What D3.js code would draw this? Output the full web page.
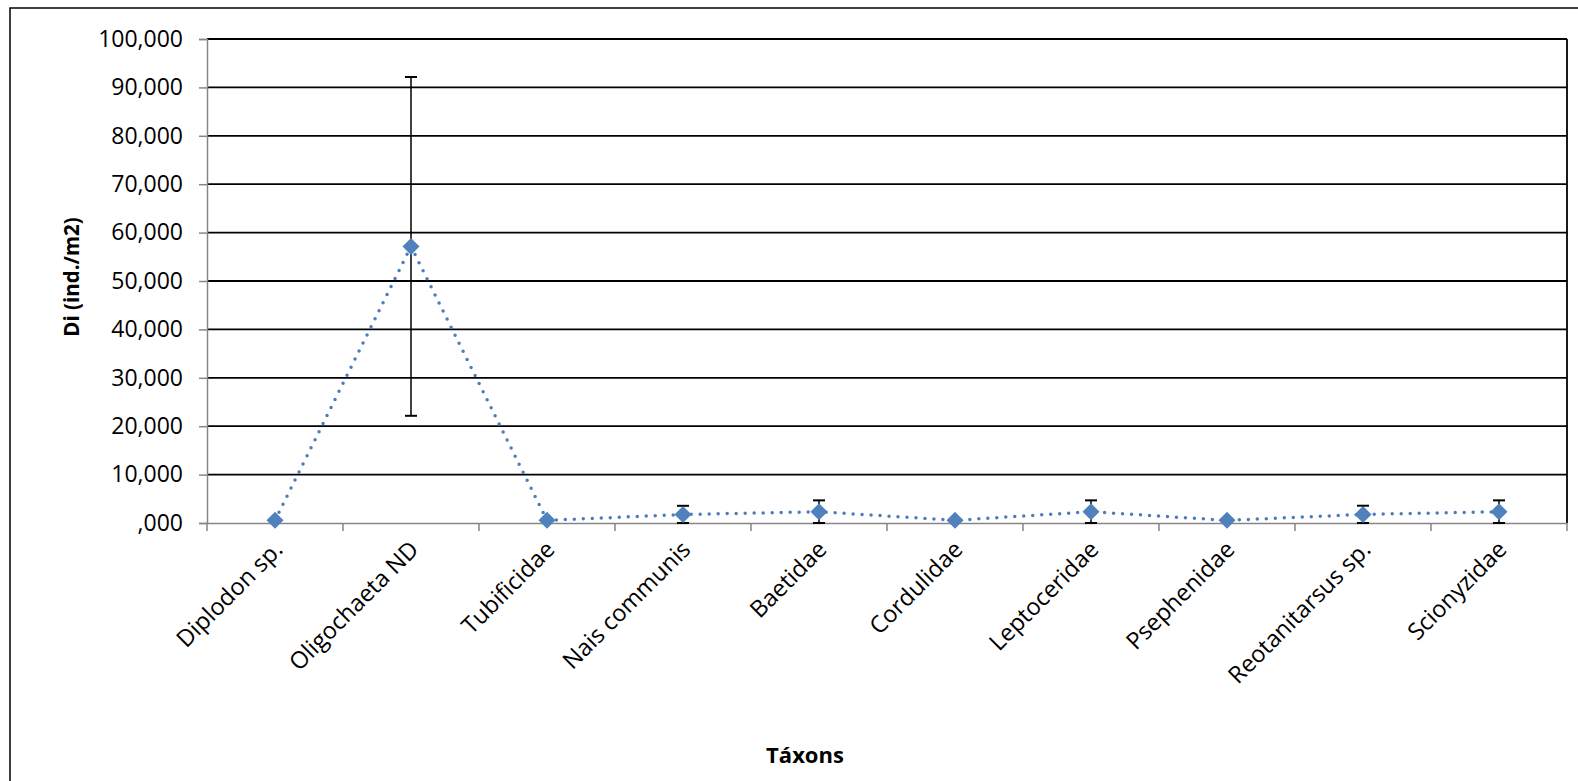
<!DOCTYPE html>
<html>
<head>
<meta charset="utf-8">
<script src="https://cdn.jsdelivr.net/npm/d3@7"></script>
<style>
  html, body { margin: 0; padding: 0; background: #fff; overflow: hidden; }
  svg { display: block; }
  text { font-family: "Open Sans", "Liberation Sans", sans-serif; fill: #000; }
</style>
</head>
<body>
<svg id="chart" width="1578" height="781"></svg>
<script>
const categories = ["Diplodon sp.", "Oligochaeta ND", "Tubificidae", "Nais communis", "Baetidae",
  "Cordulidae", "Leptoceridae", "Psephenidae", "Reotanitarsus sp.", "Scionyzidae"];
const values = [0.55, 57.15, 0.55, 1.75, 2.33, 0.55, 2.33, 0.55, 1.77, 2.33];
const errors = [0, 35.0, 0, 1.8, 2.35, 0, 2.35, 0, 1.8, 2.35];
const yTicks = [0, 10, 20, 30, 40, 50, 60, 70, 80, 90, 100];
const yTitle = "Di (ind./m2)";
const xTitle = "Táxons";

const svg = d3.select("#chart");
const plot = { left: 207, right: 1567, top: 39, bottom: 523 };

// outer chart border (extends past right/bottom edge)
svg.append("rect").attr("x", 10).attr("y", 8).attr("width", 1600).attr("height", 800)
  .attr("fill", "#fff").attr("stroke", "#000").attr("stroke-width", 1.5);

const x = d3.scaleBand().domain(categories).range([plot.left, plot.right]).padding(0);
const y = d3.scaleLinear().domain([0, 100]).range([plot.bottom, plot.top]);

const fmt = v => {
  const s = d3.format(".3f")(v).replace(".", ",");
  return s.startsWith("0,") ? s.slice(1) : s;
};

// gridlines
svg.append("g").selectAll("line").data(yTicks.filter(d => d > 0)).join("line")
  .attr("x1", plot.left).attr("x2", plot.right)
  .attr("y1", d => y(d)).attr("y2", d => y(d))
  .attr("stroke", "#000").attr("stroke-width", 1.8);

// right border of plot
svg.append("line").attr("x1", plot.right).attr("x2", plot.right)
  .attr("y1", plot.top).attr("y2", plot.bottom)
  .attr("stroke", "#000").attr("stroke-width", 1.8);

// y axis
const yAxis = svg.append("g").attr("transform", `translate(${plot.left},0)`)
  .call(d3.axisLeft(y).tickValues(yTicks).tickFormat(fmt).tickSize(8).tickPadding(16));
yAxis.select(".domain").attr("stroke", "#868686").attr("stroke-width", 1.5);
yAxis.selectAll(".tick line").attr("stroke", "#868686").attr("stroke-width", 1.5);
yAxis.selectAll("text").attr("font-size", 23).attr("font-family", "Open Sans").attr("fill", "#000");

// x axis
const xAxis = svg.append("g").attr("transform", `translate(0,${plot.bottom})`)
  .call(d3.axisBottom(x).tickSize(0).tickFormat(""));
xAxis.select(".domain").attr("stroke", "#868686").attr("stroke-width", 1.5);
const bounds = d3.range(categories.length + 1).map(i => plot.left + i * x.step());
xAxis.selectAll(".bt").data(bounds).join("line").attr("class", "bt")
  .attr("x1", d => d).attr("x2", d => d).attr("y1", 0).attr("y2", 8)
  .attr("stroke", "#868686").attr("stroke-width", 1.5);

// x labels rotated
svg.append("g").selectAll("text").data(categories).join("text")
  .attr("transform", d => `translate(${x(d) + x.bandwidth() / 2 + 9},${plot.bottom + 28}) rotate(-45)`)
  .attr("text-anchor", "end")
  .attr("font-size", 23.5)
  .text(d => d);

// line
const cx = d => x(d) + x.bandwidth() / 2;
const lineGen = d3.line().x(d => cx(d.c)).y(d => y(d.v));
const pts = categories.map((c, i) => ({ c, v: values[i], e: errors[i] }));
svg.append("path").datum(pts).attr("d", lineGen)
  .attr("fill", "none").attr("stroke", "#4a7ebb").attr("stroke-width", 3.5)
  .attr("stroke-linecap", "round").attr("stroke-dasharray", "0 9");

// error bars
const eb = svg.append("g").selectAll("g").data(pts.filter(d => d.e > 0)).join("g");
eb.append("line").attr("x1", d => cx(d.c)).attr("x2", d => cx(d.c))
  .attr("y1", d => y(Math.max(0, d.v - d.e))).attr("y2", d => y(d.v + d.e))
  .attr("stroke", "#000").attr("stroke-width", 1.5);
[d => d.v + d.e, d => Math.max(0, d.v - d.e)].forEach(f => {
  eb.append("line").attr("x1", d => cx(d.c) - 6).attr("x2", d => cx(d.c) + 6)
    .attr("y1", d => y(f(d))).attr("y2", d => y(f(d)))
    .attr("stroke", "#000").attr("stroke-width", 2);
});

// markers
svg.append("g").selectAll("path").data(pts).join("path")
  .attr("transform", d => `translate(${cx(d.c)},${y(d.v)})`)
  .attr("d", "M0,-8.5L8.5,0L0,8.5L-8.5,0Z")
  .attr("fill", "#4f81bd");

// titles
svg.append("text").attr("transform", `translate(79,${(plot.top + plot.bottom) / 2 - 4}) rotate(-90)`)
  .attr("text-anchor", "middle").attr("font-size", 20.5).attr("font-weight", "bold").text(yTitle);
svg.append("text").attr("x", 805).attr("y", 763)
  .attr("text-anchor", "middle").attr("font-size", 22).attr("font-weight", "bold").text(xTitle);
</script>
</body>
</html>
